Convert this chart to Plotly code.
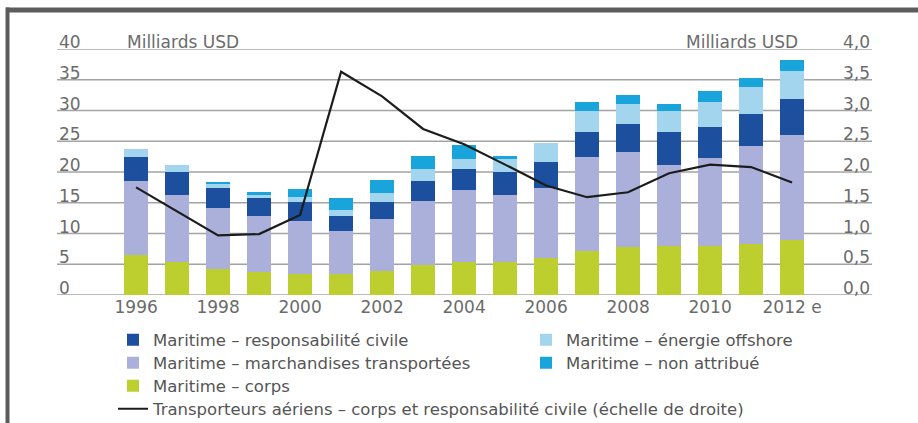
import plotly.graph_objects as go

# Primes d'assurance maritime et aviation (milliards USD)
years = list(range(1996, 2013))
corps = [6.5, 5.3, 4.2, 3.7, 3.4, 3.4, 3.9, 4.9, 5.4, 5.3, 6.0, 7.2, 7.8, 7.9, 8.0, 8.3, 9.0]
marchandises = [12.0, 11.0, 9.9, 9.1, 8.7, 7.0, 8.5, 10.4, 11.6, 11.0, 11.4, 15.2, 15.5, 13.2, 14.3, 15.9, 17.0]
resp_civile = [4.0, 3.65, 3.3, 3.0, 3.1, 2.4, 2.7, 3.2, 3.5, 3.7, 4.2, 4.1, 4.5, 5.4, 5.0, 5.3, 5.8]
offshore = [1.3, 1.15, 0.7, 0.5, 0.7, 1.1, 1.5, 2.0, 1.6, 2.1, 3.1, 3.4, 3.2, 3.5, 4.1, 4.4, 4.7]
non_attribue = [0.0, 0.0, 0.3, 0.4, 1.3, 1.9, 2.15, 2.05, 2.25, 0.45, 0.0, 1.5, 1.5, 1.1, 1.8, 1.4, 1.7]
aerien = [1.75, 1.36, 0.97, 0.99, 1.3, 3.63, 3.23, 2.7, 2.45, 2.12, 1.78, 1.59, 1.67, 1.98, 2.12, 2.08, 1.83]

tick_years = [1996, 1998, 2000, 2002, 2004, 2006, 2008, 2010, 2012]
tick_text = ["1996", "1998", "2000", "2002", "2004", "2006", "2008", "2010", "2012 e"]
left_ticks = [0, 5, 10, 15, 20, 25, 30, 35, 40]
right_ticks = [0, 0.5, 1.0, 1.5, 2.0, 2.5, 3.0, 3.5, 4.0]

W, H = 918, 423
ML, MR, MT, MB = 57, 46, 49, 128
PW, PH = W - ML - MR, H - MT - MB


def fx(px):
    return (px - ML) / PW


def fy(py):
    return (H - MB - py) / PH


FONT = "DejaVu Sans"
GREY_TXT = "#6b6b6b"
LEG_TXT = "#555555"
GRID = "#a3a3a3"

series = [
    ("Maritime – corps", corps, "#bccf2f", "legend3"),
    ("Maritime – marchandises transportées", marchandises, "#aab0d9", "legend2"),
    ("Maritime – responsabilité civile", resp_civile, "#1d4f9f", "legend"),
    ("Maritime – énergie offshore", offshore, "#a3d5ef", "legend4"),
    ("Maritime – non attribué", non_attribue, "#19a4dc", "legend5"),
]

fig = go.Figure()
for name, vals, col, leg in series:
    fig.add_trace(go.Bar(
        x=years, y=vals, name=name, marker=dict(color=col, line=dict(width=0)),
        width=0.6, legend=leg,
    ))

fig.add_trace(go.Scatter(
    x=years, y=aerien, yaxis="y2", mode="lines",
    name="Transporteurs aériens – corps et responsabilité civile (échelle de droite)",
    line=dict(color="#1c1c1c", width=2.2), legend="legend6",
))

leg_common = dict(
    xanchor="left", yanchor="middle", orientation="h",
    bgcolor="rgba(0,0,0,0)", font=dict(family=FONT, size=16.5, color=LEG_TXT),
)
left_x, right_x = fx(113), fx(526)
row_y = [340, 363, 386, 409]

fig.update_layout(
    width=W, height=H, autosize=False,
    margin=dict(l=ML, r=MR, t=MT, b=MB, pad=0, autoexpand=False),
    paper_bgcolor="white", plot_bgcolor="white",
    barmode="stack",
    font=dict(family=FONT, size=17, color=GREY_TXT),
    xaxis=dict(
        range=[1994.07, 2013.95], tickvals=tick_years, ticktext=tick_text,
        showgrid=False, zeroline=False, showline=False, ticks="",
        tickfont=dict(family=FONT, size=17, color=GREY_TXT),
    ),
    yaxis=dict(
        range=[0, 40], showgrid=False, zeroline=False, showline=False,
        ticks="", showticklabels=False,
    ),
    yaxis2=dict(
        range=[0, 4], overlaying="y", side="right", showgrid=False,
        zeroline=False, showline=False, ticks="", showticklabels=False,
    ),
    legend=dict(x=left_x, y=fy(row_y[0]), **leg_common),
    legend2=dict(x=left_x, y=fy(row_y[1]), **leg_common),
    legend3=dict(x=left_x, y=fy(row_y[2]), **leg_common),
    legend6=dict(x=left_x, y=fy(row_y[3]), **leg_common),
    legend4=dict(x=right_x, y=fy(row_y[0]), **leg_common),
    legend5=dict(x=right_x, y=fy(row_y[1]), **leg_common),
    showlegend=True,
)

# Horizontal rules at each left-axis tick, behind the bars
for v in left_ticks:
    fig.add_shape(type="line", xref="paper", x0=0, x1=1, yref="y", y0=v, y1=v,
                  line=dict(color=GRID, width=1.6), layer="below")

# Tick values sit just above their rules, left scale at the left edge,
# right scale (decimal comma) at the right edge
label_font = dict(family=FONT, size=17, color=GREY_TXT)
for v in left_ticks:
    fig.add_annotation(text=str(v), xref="paper", x=0, xanchor="left",
                       yref="y", y=v, yanchor="bottom", yshift=-5,
                       showarrow=False, font=label_font)
for v in right_ticks:
    fig.add_annotation(text=f"{v:.1f}".replace(".", ","), xref="paper", x=1,
                       xanchor="right", yref="y2", y=v, yanchor="bottom",
                       yshift=-5, showarrow=False, font=label_font)

# Unit labels beside the top ticks
for xp, anchor in ((fx(125), "left"), (fx(800), "right")):
    fig.add_annotation(
        text="Milliards USD", xref="paper", x=xp, xanchor=anchor,
        yref="y", y=40, yanchor="bottom", yshift=-5, showarrow=False,
        font=label_font,
    )

# Frame: top band and left border
frame_col = "#5c5c5c"
fig.add_shape(type="rect", xref="paper", yref="paper",
              x0=fx(6), x1=fx(W + 2), y0=fy(12.5), y1=fy(7.5),
              fillcolor=frame_col, line=dict(width=0), layer="above")
fig.add_shape(type="rect", xref="paper", yref="paper",
              x0=fx(5.5), x1=fx(9.5), y0=fy(H + 2), y1=fy(7.5),
              fillcolor=frame_col, line=dict(width=0), layer="above")

fig.write_html("out.html")
